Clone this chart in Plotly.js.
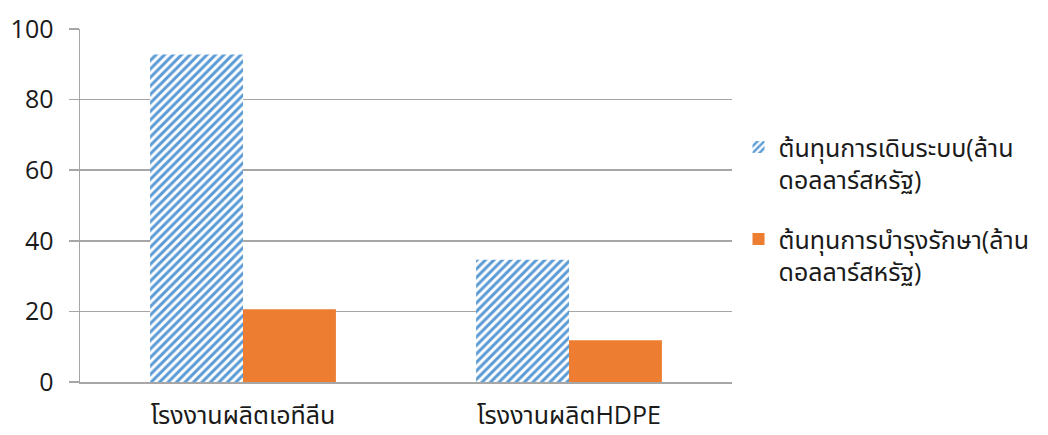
<!DOCTYPE html>
<html>
<head>
<meta charset="utf-8">
<script src="https://cdn.plot.ly/plotly-3.0.1.min.js"></script>
<style>
  html, body { margin: 0; padding: 0; background: #fff; }
  #chart { width: 1048px; height: 435px; }
</style>
</head>
<body>
<div id="chart"></div>
<script>
// Plants compared
const categories = ['โรงงานผลิตเอทีลีน', 'โรงงานผลิตHDPE'];

// Operating cost (million USD)
const operatingCost = [92.8, 34.6];
// Maintenance cost (million USD)
const maintenanceCost = [20.6, 11.8];

const seriesNames = [
  'ต้นทุนการเดินระบบ(ล้าน<br>ดอลลาร์สหรัฐ)',
  'ต้นทุนการบำรุงรักษา(ล้าน<br>ดอลลาร์สหรัฐ)'
];

const yTicks = [0, 20, 40, 60, 80, 100];

const font = "'Open Sans', 'Noto Sans', 'Noto Sans Thai', 'Leelawadee UI', sans-serif";
const gridColor = '#a6a6a6';
const textColor = '#1a1a1a';
const fontSize = 25;

const traces = [
  {
    type: 'bar',
    name: seriesNames[0],
    legendgroup: 'operating',
    x: categories,
    y: operatingCost,
    marker: {
      color: '#ffffff',
      line: { width: 0 },
      pattern: { shape: '/', fgcolor: '#5b9bd5', bgcolor: '#ffffff', size: 6, solidity: 0.5 }
    },
    hoverinfo: 'skip'
  },
  {
    type: 'bar',
    name: seriesNames[1],
    legendgroup: 'maintenance',
    x: categories,
    y: maintenanceCost,
    marker: { color: '#ed7d31', line: { width: 0 } },
    hoverinfo: 'skip'
  }
];

const layout = {
  width: 1048,
  height: 435,
  margin: { l: 80, r: 316, t: 29, b: 53 },
  paper_bgcolor: '#ffffff',
  plot_bgcolor: '#ffffff',
  font: { family: font, size: fontSize, color: textColor },
  barmode: 'group',
  bargap: 0.43,
  bargroupgap: 0,
  showlegend: true,
  legend: {
    x: 1.01, xanchor: 'left',
    y: 0.73, yanchor: 'top',
    font: { family: font, size: fontSize, color: textColor },
    traceorder: 'grouped',
    tracegroupgap: 24,
    valign: 'top',
    itemwidth: 30,
    bgcolor: 'rgba(0,0,0,0)'
  },
  xaxis: {
    type: 'category',
    showgrid: false,
    showline: true,
    linecolor: gridColor,
    linewidth: 1.5,
    ticks: '',
    tickfont: { family: font, size: fontSize, color: textColor },
    ticklabelstandoff: 10
  },
  yaxis: {
    range: [0, 100],
    tickvals: yTicks,
    ticktext: yTicks.map(String),
    showgrid: true,
    gridcolor: gridColor,
    gridwidth: 1.5,
    showline: true,
    linecolor: gridColor,
    linewidth: 1.5,
    ticks: 'outside',
    ticklen: 10,
    tickcolor: gridColor,
    tickwidth: 1.5,
    zeroline: false,
    tickfont: { family: font, size: fontSize, color: textColor },
    ticklabelstandoff: 10
  }
};

Plotly.newPlot('chart', traces, layout, { staticPlot: true, displayModeBar: false });
</script>
</body>
</html>
